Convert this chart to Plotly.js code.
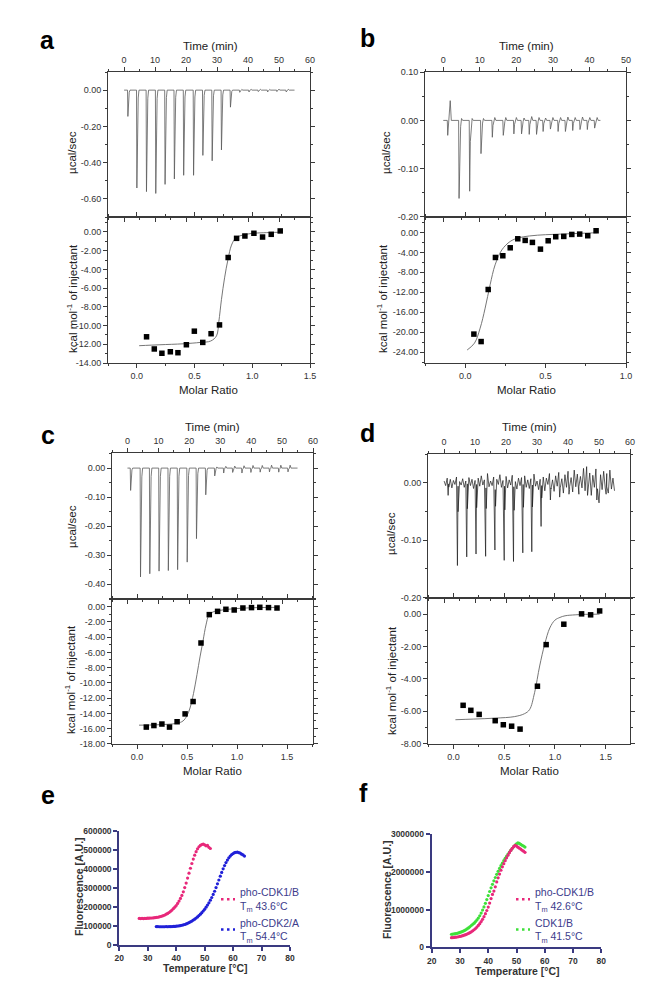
<!DOCTYPE html>
<html><head><meta charset="utf-8">
<script src="https://cdn.plot.ly/plotly-3.0.1.min.js"></script>
<style>body{margin:0;background:#fff}#plot{width:667px;height:1002px}</style>
</head><body><div id="plot"></div>
<script>
// ---------- Panel a ----------
const aInjTime=[1.1,4.0,7.1,10.1,13.1,16.1,19.1,22.3,25.3,28.3,31.3,34.2,37.2,40.2,43.2,46.2,49.2,52.2];
const aInjPeak=[-0.145,-0.54,-0.56,-0.57,-0.52,-0.49,-0.47,-0.47,-0.36,-0.39,-0.33,-0.094,-0.012,-0.010,-0.008,-0.010,-0.008,-0.010];
const aInjRebound=[0,0,0,0,0,0,0,0,0,0,0,0,0.004,0.004,0.005,0.004,0.005,0.005];
const aRatio=[0.084,0.151,0.217,0.29,0.356,0.429,0.498,0.571,0.643,0.716,0.791,0.864,0.936,1.014,1.089,1.164,1.242];
const aHeat=[-11.2,-12.5,-12.96,-12.8,-12.9,-12.05,-10.6,-11.8,-10.87,-9.93,-2.73,-0.68,-0.43,-0.14,-0.54,-0.25,0.11];
const aFitRatio=[0.02,0.2,0.4,0.55,0.64,0.69,0.71,0.733,0.76,0.79,0.82,0.86,0.93,1.0,1.1,1.24];
const aFitHeat=[-12.15,-12.05,-11.95,-11.8,-11.65,-11.1,-9.6,-7.2,-4.9,-2.9,-1.4,-0.6,-0.3,-0.15,-0.08,-0.03];

// ---------- Panel b ----------
const bInjTime=[1.1,4.2,7.1,10.2,13.3,16.3,19.2,21.3,23.4,25.4,27.2,29.2,31.3,33.3,35.3,37.3,39.3,41.3];
const bInjPeak=[-0.031,-0.162,-0.147,-0.069,-0.035,-0.031,-0.028,-0.028,-0.029,-0.029,-0.023,-0.018,-0.023,-0.023,-0.021,-0.019,-0.019,-0.016];
const bInjRebound=[0.041,0.004,0.004,0.004,0.006,0.006,0.006,0.005,0.008,0.006,0.005,0.006,0.006,0.007,0.006,0.007,0.006,0.006];
const bRatio=[0.054,0.099,0.143,0.188,0.234,0.28,0.327,0.373,0.418,0.468,0.516,0.563,0.613,0.663,0.712,0.762,0.814];
const bHeat=[-20.4,-21.9,-11.45,-5.02,-4.68,-3.08,-1.27,-1.6,-2.0,-3.35,-1.67,-0.86,-0.8,-0.4,-0.33,-0.66,0.34];
const bFitRatio=[0.012,0.058,0.093,0.124,0.155,0.186,0.228,0.28,0.33,0.4,0.5,0.6,0.7,0.82];
const bFitHeat=[-23.6,-22.2,-19.2,-15.2,-10.5,-6.5,-3.5,-1.8,-1.1,-0.7,-0.45,-0.32,-0.2,-0.05];

// ---------- Panel c ----------
const cInjTime=[0.9,4.1,7.1,10.1,13.1,16.1,19.2,22.2,25.2,28.1,31.0,33.9,36.9,39.8,42.8,45.8,48.8,51.8];
const cInjPeak=[-0.077,-0.375,-0.364,-0.355,-0.353,-0.35,-0.324,-0.243,-0.092,-0.027,-0.017,-0.015,-0.017,-0.015,-0.014,-0.013,-0.014,-0.013];
const cInjRebound=[0,0,0,0,0,0,0,0,0,0.004,0.006,0.007,0.008,0.009,0.009,0.010,0.010,0.010];
const cRatio=[0.093,0.169,0.249,0.325,0.401,0.481,0.561,0.64,0.723,0.806,0.889,0.972,1.059,1.145,1.228,1.315,1.4];
const cHeat=[-15.8,-15.6,-15.4,-15.8,-15.1,-14.07,-12.45,-4.77,-1.05,-0.62,-0.35,-0.44,-0.18,-0.13,-0.09,-0.13,-0.18];
const cFitRatio=[0.02,0.2,0.4,0.46,0.5,0.53,0.565,0.6,0.63,0.66,0.69,0.72,0.76,0.85,1.0,1.2,1.42];
const cFitHeat=[-15.55,-15.5,-15.3,-15.0,-14.3,-13.3,-11.4,-8.9,-6.6,-4.5,-2.4,-1.1,-0.7,-0.45,-0.25,-0.13,-0.1];

// ---------- Panel d ----------
const dInjTime=[1.2,4.2,7.2,10.2,13.3,16.3,19.3,22.3,25.3,28.2,31.2,34.2,37.2,40.2,43.2,46.2,49.2,52.2];
const dInjPeak=[-0.022,-0.144,-0.129,-0.124,-0.128,-0.117,-0.135,-0.137,-0.122,-0.12,-0.076,-0.03,-0.025,-0.02,-0.02,-0.022,-0.03,-0.02];
const dNoiseTime=[0,0.5,1,1.5,2,2.5,3,3.5,4,4.5,5,5.5,6,6.5,7,7.5,8,8.5,9,9.5,10,10.5,11,11.5,12,12.5,13,13.5,14,14.5,15,15.5,16,16.5,17,17.5,18,18.5,19,19.5,20,20.5,21,21.5,22,22.5,23,23.5,24,24.5,25,25.5,26,26.5,27,27.5,28,28.5,29,29.5,30,30.5,31,31.5,32,32.5,33,33.5,34,34.5,35,35.5,36,36.5,37,37.5,38,38.5,39,39.5,40,40.5,41,41.5,42,42.5,43,43.5,44,44.5,45,45.5,46,46.5,47,47.5,48,48.5,49,49.5,50,50.5,51,51.5,52,52.5,53,53.5,54,54.5,55];
const dNoiseVal=[0.003,-0.005,0.008,-0.002,0.006,-0.009,0.004,-0.003,0.010,-0.006,0.002,
 -0.004,0.007,-0.008,0.003,-0.002,0.009,-0.005,0.006,-0.010,0.004,
 -0.003,0.008,-0.006,0.012,-0.004,0.005,-0.009,0.016,-0.007,0.003,
 -0.005,0.010,-0.012,0.006,-0.003,0.014,-0.008,0.004,-0.006,0.011,
 -0.009,0.005,-0.004,0.013,-0.007,0.002,-0.011,0.008,-0.005,0.009,
 -0.003,0.012,-0.008,0.005,-0.010,0.007,-0.004,0.015,-0.006,0.003,
 -0.012,0.006,-0.005,0.010,-0.014,0.008,-0.003,0.016,-0.009,0.005,
 -0.015,0.012,-0.006,0.018,-0.010,0.007,-0.018,0.014,-0.008,0.020,
 -0.012,0.009,-0.016,0.022,-0.007,0.015,-0.020,0.011,-0.009,0.025,
 -0.014,0.028,-0.010,0.017,-0.022,0.013,-0.008,0.024,-0.016,-0.035,
 0.014,-0.012,0.020,-0.009,0.016,-0.018,0.022,-0.011,0.008,-0.014];
const dRatio=[0.096,0.172,0.254,0.412,0.492,0.574,0.657,0.828,0.914,1.088,1.263,1.352,1.441];
const dHeat=[-5.63,-5.94,-6.19,-6.58,-6.83,-6.92,-7.1,-4.45,-1.88,-0.62,0.02,-0.04,0.2];
const dFitRatio=[0.02,0.2,0.42,0.6,0.7,0.75,0.8,0.85,0.9,0.95,1.0,1.05,1.1,1.2,1.3,1.44];
const dFitHeat=[-6.52,-6.48,-6.42,-6.33,-6.15,-5.9,-4.85,-3.2,-1.85,-0.85,-0.37,-0.2,-0.1,-0.04,-0.01,0.0];

// ---------- Panel e ----------
const ePinkTemp=[27,27.5,28,28.5,29,29.5,30,30.5,31,31.5,32,32.5,33,33.5,34,34.5,35,35.5,36,36.5,37,37.5,38,38.5,39,39.5,40,40.5,41,41.5,42,42.5,43,43.5,44,44.5,45,45.5,46,46.5,47,47.5,48,48.5,49,49.5,50,50.5,51,51.5,52];
const ePinkFluo=[140000,139000,140000,139000,140000,140000,141000,141000,142000,142000,143000,144000,145000,146000,148000,150000,152000,155000,158000,162000,166000,171000,177000,184000,191000,199000,208000,219000,231000,245000,261000,280000,302000,326000,352000,378000,404000,429000,452000,473000,491000,506000,517000,524000,529000,531000,527000,522000,524000,514000,508000];
const eBlueTemp=[33,33.5,34,34.5,35,35.5,36,36.5,37,37.5,38,38.5,39,39.5,40,40.5,41,41.5,42,42.5,43,43.5,44,44.5,45,45.5,46,46.5,47,47.5,48,48.5,49,49.5,50,50.5,51,51.5,52,52.5,53,53.5,54,54.5,55,55.5,56,56.5,57,57.5,58,58.5,59,59.5,60,60.5,61,61.5,62,62.5,63,63.5,64];
const eBlueFluo=[97000,97000,96000,96000,96000,96000,96000,97000,96000,97000,97000,97000,98000,98000,99000,100000,101000,102000,104000,106000,108000,111000,114000,118000,122000,126000,131000,136000,142000,148000,155000,162000,170000,179000,188000,199000,210000,222000,236000,250000,266000,283000,302000,322000,342000,362000,382000,401000,418000,434000,447000,459000,468000,476000,481000,486000,488000,489000,486000,484000,478000,474000,468000];
const eNames=['pho-CDK1/B<br>T<sub>m</sub> 43.6°C','pho-CDK2/A<br>T<sub>m</sub> 54.4°C'];
const eYTicks=[0,100000,200000,300000,400000,500000,600000];

// ---------- Panel f ----------
const fTemp=[27,27.5,28,28.5,29,29.5,30,30.5,31,31.5,32,32.5,33,33.5,34,34.5,35,35.5,36,36.5,37,37.5,38,38.5,39,39.5,40,40.5,41,41.5,42,42.5,43,43.5,44,44.5,45,45.5,46,46.5,47,47.5,48,48.5,49,49.5,50,50.5,51,51.5,52,52.5,53];
const fPinkFluo=[255000,258000,262000,267000,273000,280000,288000,297000,308000,320000,334000,350000,368000,388000,410000,436000,465000,498000,535000,578000,626000,680000,742000,812000,890000,975000,1065000,1170000,1290000,1400000,1490000,1600000,1730000,1840000,1940000,2040000,2130000,2215000,2295000,2370000,2440000,2505000,2565000,2620000,2665000,2700000,2680000,2650000,2625000,2600000,2570000,2545000,2515000];
const fGreenFluo=[345000,350000,356000,363000,371000,381000,393000,407000,423000,441000,462000,486000,513000,543000,577000,608000,640000,680000,725000,775000,835000,905000,985000,1070000,1165000,1265000,1370000,1478000,1574000,1668000,1760000,1848000,1932000,2012000,2088000,2160000,2228000,2293000,2355000,2414000,2470000,2523000,2573000,2620000,2665000,2705000,2740000,2765000,2750000,2725000,2700000,2680000,2655000];
const fNames=['pho-CDK1/B<br>T<sub>m</sub> 42.6°C','CDK1/B<br>T<sub>m</sub> 41.5°C'];
const fYTicks=[0,1000000,2000000,3000000];
const tempTicks=[20,30,40,50,60,70,80];

// ---------- helpers ----------
const W=667,H=1002;
const X=p=>p/W, Y=p=>1-p/H;
const FONT='Liberation Sans, Arial, sans-serif';

function buildSpikes(times,peaks,rebounds,tEnd){
  const x=[0],y=[0];
  for(let i=0;i<times.length;i++){
    const t=times[i],p=peaks[i],r=rebounds[i];
    x.push(t,t+0.12,t+0.3,t+0.55,t+0.8,t+1.1);
    y.push(0,p,p*0.3,p*0.08,r,0);
  }
  x.push(tEnd);y.push(0);
  return {x,y};
}
function buildNoisy(nt,nv,times,peaks){
  const pts=nt.map((t,i)=>[t,nv[i]]);
  times.forEach((t,i)=>{pts.push([t+0.1,peaks[i]]);pts.push([t+0.3,peaks[i]*0.35]);});
  pts.sort((a,b)=>a[0]-b[0]);
  return {x:pts.map(p=>p[0]),y:pts.map(p=>p[1])};
}
function labels(vals,dec){return vals.map(v=>v.toFixed(dec));}

const traces=[];
const layout={width:W,height:H,margin:{l:0,r:0,t:0,b:0},paper_bgcolor:'#fff',plot_bgcolor:'rgba(0,0,0,0)',
  showlegend:true,font:{family:FONT,color:'#222'},annotations:[]};

const tickFont={family:FONT,size:9,color:'#333'};
function itcAxis(dom,range,tv,dec,minor,extra){
  return Object.assign({domain:dom,range:range,tickmode:'array',tickvals:tv,ticktext:labels(tv,dec),
    showline:true,linecolor:'#3a3a3a',linewidth:1,mirror:'ticks',ticks:'outside',ticklen:4,tickcolor:'#3a3a3a',
    showgrid:false,zeroline:false,tickfont:tickFont,fixedrange:true,
    minor:{dtick:minor,tick0:0,ticklen:2,tickcolor:'#3a3a3a',ticks:'outside',showgrid:false}},extra||{});
}

const panels=[
  {xd:[108,310],top:[72,217],bot:[217,363],
   tr:buildSpikes(aInjTime,aInjPeak,aInjRebound,55),noisy:false,
   tRange:[-5.2,60],tTicks:[0,10,20,30,40,50,60],tMinor:5,
   rRange:[-0.70,0.10],rTicks:[0,-0.2,-0.4,-0.6],rMinor:0.1,
   mRange:[-0.25,1.5],mTicks:[0,0.5,1.0,1.5],mMinor:0.25,
   hRange:[-14,1.6],hTicks:[0,-2,-4,-6,-8,-10,-12,-14],hMinor:1,
   px:aRatio,py:aHeat,fx:aFitRatio,fy:aFitHeat},
  {xd:[425,626],top:[72,217],bot:[217,363],
   tr:buildSpikes(bInjTime,bInjPeak,bInjRebound,43),noisy:false,
   tRange:[-5,50],tTicks:[0,10,20,30,40,50],tMinor:5,
   rRange:[-0.2005,0.1005],rTicks:[0.1,0,-0.1,-0.2],rMinor:0.05,
   mRange:[-0.25,1.0],mTicks:[0,0.5,1.0],mMinor:0.25,
   hRange:[-26.2,3.1],hTicks:[0,-4,-8,-12,-16,-20,-24],hMinor:2,
   px:bRatio,py:bHeat,fx:bFitRatio,fy:bFitHeat},
  {xd:[112,313],top:[453,599],bot:[599,744],
   tr:buildSpikes(cInjTime,cInjPeak,cInjRebound,55),noisy:false,
   tRange:[-5,60],tTicks:[0,10,20,30,40,50,60],tMinor:5,
   rRange:[-0.451,0.052],rTicks:[0,-0.1,-0.2,-0.3,-0.4],rMinor:0.05,
   mRange:[-0.25,1.76],mTicks:[0,0.5,1.0,1.5],mMinor:0.25,
   hRange:[-18.02,1.0],hTicks:[0,-2,-4,-6,-8,-10,-12,-14,-16,-18],hMinor:1,
   px:cRatio,py:cHeat,fx:cFitRatio,fy:cFitHeat},
  {xd:[428,630],top:[454,598],bot:[598,744],
   tr:buildNoisy(dNoiseTime,dNoiseVal,dInjTime,dInjPeak),noisy:true,
   tRange:[-5.2,60],tTicks:[0,10,20,30,40,50,60],tMinor:5,
   rRange:[-0.2005,0.05],rTicks:[0,-0.1,-0.2],rMinor:0.05,
   mRange:[-0.25,1.74],mTicks:[0,0.5,1.0,1.5],mMinor:0.25,
   hRange:[-8.02,1.0],hTicks:[0,-2,-4,-6,-8],hMinor:1,
   px:dRatio,py:dHeat,fx:dFitRatio,fy:dFitHeat}
];

panels.forEach((p,k)=>{
  const iT=2*k+1,iB=2*k+2;
  const xT='x'+(iT===1?'':iT), yT='y'+(iT===1?'':iT);
  const xB='x'+iB, yB='y'+iB;
  const xdom=[X(p.xd[0]),X(p.xd[1])];
  layout['xaxis'+(iT===1?'':iT)]=itcAxis(xdom,p.tRange,p.tTicks,0,p.tMinor,{anchor:yT,side:'top'});
  layout['yaxis'+(iT===1?'':iT)]=itcAxis([Y(p.top[1]),Y(p.top[0])],p.rRange,p.rTicks,2,p.rMinor,{anchor:xT});
  layout['xaxis'+iB]=itcAxis(xdom,p.mRange,p.mTicks,1,p.mMinor,{anchor:yB});
  layout['yaxis'+iB]=itcAxis([Y(p.bot[1]),Y(p.bot[0])],p.hRange,p.hTicks,2,p.hMinor,{anchor:xB});
  traces.push({x:p.tr.x,y:p.tr.y,xaxis:xT,yaxis:yT,mode:'lines',
    line:{color:p.noisy?'#1a1a1a':'#5a5a5a',width:p.noisy?0.7:0.8},showlegend:false,hoverinfo:'skip'});
  traces.push({x:p.fx,y:p.fy,xaxis:xB,yaxis:yB,mode:'lines',line:{color:'#666',width:0.9,shape:'spline'},showlegend:false});
  traces.push({x:p.px,y:p.py,xaxis:xB,yaxis:yB,mode:'markers',marker:{symbol:'square',size:5.5,color:'#000'},showlegend:false});
});

// ---------- DSF panels ----------
const navy='#3a3a80';
function dsfAxis(dom,range,tv,extra){
  return Object.assign({domain:dom,range:range,tickmode:'array',tickvals:tv,ticktext:tv.map(v=>String(v)),
    showline:true,linecolor:navy,linewidth:2,
    ticks:'outside',ticklen:4,tickwidth:2,tickcolor:navy,showgrid:false,zeroline:false,
    tickfont:{family:FONT,size:8.5,color:'#333',weight:'bold'},fixedrange:true},extra||{});
}
layout.xaxis9=dsfAxis([X(119.3),X(290)],[20,80],tempTicks,{anchor:'y9'});
layout.yaxis9=dsfAxis([Y(945),Y(831)],[0,600000],eYTicks,{anchor:'x9'});
layout.xaxis10=dsfAxis([X(431.7),X(601.3)],[20,80],tempTicks,{anchor:'y10'});
layout.yaxis10=dsfAxis([Y(947.3),Y(834)],[0,3000000],fYTicks,{anchor:'x10'});

const pink='#e8287a',blue='#2020d8',green='#3ee03a';
traces.push({x:ePinkTemp,y:ePinkFluo,xaxis:'x9',yaxis:'y9',mode:'markers',marker:{size:3.2,color:pink},showlegend:false});
traces.push({x:eBlueTemp,y:eBlueFluo,xaxis:'x9',yaxis:'y9',mode:'markers',marker:{size:3.2,color:blue},showlegend:false});
traces.push({x:fTemp,y:fGreenFluo,xaxis:'x10',yaxis:'y10',mode:'markers',marker:{size:3.2,color:green},showlegend:false});
traces.push({x:fTemp,y:fPinkFluo,xaxis:'x10',yaxis:'y10',mode:'markers',marker:{size:3.2,color:pink},showlegend:false});
// legend-only entries
const dotDash='0px,16px,2.5px,3.5px,2.5px,3.5px,2.5px,20px';
[[eNames[0],pink,'legend'],[eNames[1],blue,'legend'],[fNames[0],pink,'legend2'],[fNames[1],green,'legend2']].forEach(([n,c,lg],i)=>{
  traces.push({x:[null],y:[null],xaxis:i<2?'x9':'x10',yaxis:i<2?'y9':'y10',mode:'lines',name:n,legend:lg,
    line:{color:c,width:2.5,dash:dotDash}});
});
const legFont={family:FONT,size:10.5,color:'#3c3c8c'};
layout.legend={x:X(200),y:Y(879),xanchor:'left',yanchor:'top',bgcolor:'rgba(0,0,0,0)',font:legFont,tracegroupgap:0,itemwidth:30};
layout.legend2={x:X(495),y:Y(879),xanchor:'left',yanchor:'top',bgcolor:'rgba(0,0,0,0)',font:legFont,tracegroupgap:0,itemwidth:30};

// ---------- annotations ----------
function ann(text,x,y,o){layout.annotations.push(Object.assign({text:text,x:X(x),y:Y(y),xref:'paper',yref:'paper',
  showarrow:false,xanchor:'center',yanchor:'middle',font:{family:FONT,size:11.5,color:'#222'}},o||{}));}
const letter={family:'Liberation Sans, Arial, sans-serif',size:25,color:'#000',weight:'bold'};
ann('a',48,40,{font:letter});ann('b',367,38,{font:letter});
ann('c',48,435,{font:letter});ann('d',367,433,{font:letter});
ann('e',48,795,{font:letter});ann('f',363,793,{font:letter});
const kcal='kcal mol<sup>-1</sup> of injectant';
ann('Time (min)',210,46);ann('µcal/sec',72,153,{textangle:-90});ann(kcal,72,299,{textangle:-90});ann('Molar Ratio',209,390);
ann('Time (min)',526,46);ann('µcal/sec',386,153,{textangle:-90});ann(kcal,382,299,{textangle:-90});ann('Molar Ratio',526,390);
ann('Time (min)',212,427);ann('µcal/sec',72,527,{textangle:-90});ann(kcal,70,680,{textangle:-90});ann('Molar Ratio',212,771);
ann('Time (min)',529,427);ann('µcal/sec',391,533,{textangle:-90});ann(kcal,391,680,{textangle:-90});ann('Molar Ratio',529,771);
const dsfT={family:FONT,size:10.5,color:'#333',weight:'bold'};
ann('Fluorescence [A.U.]',79,887,{textangle:-90,font:dsfT});ann('Temperature [°C]',205,968,{font:dsfT});
ann('Fluorescence [A.U.]',387,890,{textangle:-90,font:dsfT});ann('Temperature [°C]',517,971,{font:dsfT});

Plotly.newPlot('plot',traces,layout,{staticPlot:true});
</script></body></html>
